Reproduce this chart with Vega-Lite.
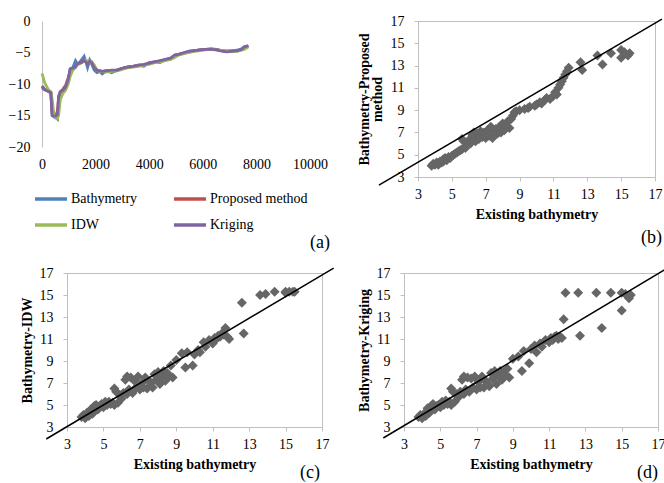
{
  "$schema": "https://vega.github.io/schema/vega-lite/v6.json",
  "background": "white",
  "padding": {"left": 8, "top": 13, "right": 0, "bottom": 0},
  "config": {
    "font": "Liberation Serif",
    "view": {"stroke": "#bfbfbf", "strokeWidth": 1},
    "axis": {"labelFont": "Liberation Serif", "labelFontSize": 14, "labelColor": "#000000", "titleFont": "Liberation Serif", "titleFontSize": 14, "titleFontWeight": "bold", "titleColor": "#000000", "domainColor": "#bfbfbf", "tickColor": "#bfbfbf", "grid": false, "tickSize": 4, "labelOverlap": false, "labelFlush": false},
    "title": {"font": "Liberation Serif", "fontSize": 18, "fontWeight": "normal", "color": "#000000", "frame": "group"}
  },
  "datasets": {
    "profile": [
      {"d":0,"Bathymetry":-10.3,"Proposed method":-10.4,"IDW":-8.3,"Kriging":-10.6},
      {"d":100,"Bathymetry":-10.8,"Proposed method":-10.9,"IDW":-9.8,"Kriging":-10.9},
      {"d":250,"Bathymetry":-11.1,"Proposed method":-11.2,"IDW":-11.0,"Kriging":-11.2},
      {"d":330,"Bathymetry":-11.3,"Proposed method":-11.5,"IDW":-11.2,"Kriging":-11.4},
      {"d":380,"Bathymetry":-15.0,"Proposed method":-14.6,"IDW":-12.5,"Kriging":-15.0},
      {"d":450,"Bathymetry":-15.2,"Proposed method":-14.8,"IDW":-15.0,"Kriging":-15.1},
      {"d":520,"Bathymetry":-15.4,"Proposed method":-15.0,"IDW":-15.3,"Kriging":-15.1},
      {"d":580,"Bathymetry":-15.6,"Proposed method":-14.2,"IDW":-15.5,"Kriging":-14.8},
      {"d":620,"Bathymetry":-13.0,"Proposed method":-12.0,"IDW":-15.0,"Kriging":-12.0},
      {"d":680,"Bathymetry":-11.4,"Proposed method":-11.3,"IDW":-12.5,"Kriging":-11.2},
      {"d":780,"Bathymetry":-11.2,"Proposed method":-10.8,"IDW":-11.5,"Kriging":-11.0},
      {"d":880,"Bathymetry":-10.8,"Proposed method":-10.2,"IDW":-11.0,"Kriging":-10.5},
      {"d":980,"Bathymetry":-9.5,"Proposed method":-9.0,"IDW":-10.0,"Kriging":-9.2},
      {"d":1050,"Bathymetry":-7.6,"Proposed method":-8.0,"IDW":-8.8,"Kriging":-7.6},
      {"d":1150,"Bathymetry":-7.4,"Proposed method":-7.6,"IDW":-7.8,"Kriging":-7.5},
      {"d":1250,"Bathymetry":-6.3,"Proposed method":-7.2,"IDW":-7.4,"Kriging":-7.3},
      {"d":1320,"Bathymetry":-6.8,"Proposed method":-6.9,"IDW":-6.9,"Kriging":-6.8},
      {"d":1400,"Bathymetry":-6.6,"Proposed method":-6.6,"IDW":-6.8,"Kriging":-6.7},
      {"d":1500,"Bathymetry":-6.0,"Proposed method":-6.4,"IDW":-6.6,"Kriging":-6.5},
      {"d":1570,"Bathymetry":-5.6,"Proposed method":-6.2,"IDW":-6.4,"Kriging":-6.3},
      {"d":1640,"Bathymetry":-6.5,"Proposed method":-6.4,"IDW":-6.2,"Kriging":-6.5},
      {"d":1700,"Bathymetry":-7.4,"Proposed method":-6.8,"IDW":-6.4,"Kriging":-6.9},
      {"d":1780,"Bathymetry":-6.2,"Proposed method":-6.5,"IDW":-6.6,"Kriging":-6.4},
      {"d":1850,"Bathymetry":-6.8,"Proposed method":-6.6,"IDW":-6.4,"Kriging":-6.6},
      {"d":1950,"Bathymetry":-7.8,"Proposed method":-7.4,"IDW":-7.0,"Kriging":-7.4},
      {"d":2050,"Bathymetry":-8.2,"Proposed method":-7.9,"IDW":-7.8,"Kriging":-7.8},
      {"d":2150,"Bathymetry":-8.0,"Proposed method":-7.9,"IDW":-8.0,"Kriging":-7.9},
      {"d":2250,"Bathymetry":-8.4,"Proposed method":-8.0,"IDW":-8.0,"Kriging":-8.0},
      {"d":2400,"Bathymetry":-7.9,"Proposed method":-7.9,"IDW":-8.1,"Kriging":-7.9},
      {"d":2600,"Bathymetry":-8.2,"Proposed method":-7.9,"IDW":-8.0,"Kriging":-7.8},
      {"d":2800,"Bathymetry":-7.8,"Proposed method":-7.8,"IDW":-7.9,"Kriging":-7.8},
      {"d":3000,"Bathymetry":-7.5,"Proposed method":-7.5,"IDW":-7.7,"Kriging":-7.5},
      {"d":3200,"Bathymetry":-7.4,"Proposed method":-7.3,"IDW":-7.4,"Kriging":-7.3},
      {"d":3400,"Bathymetry":-7.2,"Proposed method":-7.2,"IDW":-7.3,"Kriging":-7.2},
      {"d":3600,"Bathymetry":-7.0,"Proposed method":-7.0,"IDW":-7.2,"Kriging":-7.0},
      {"d":3800,"Bathymetry":-7.2,"Proposed method":-7.0,"IDW":-7.0,"Kriging":-6.9},
      {"d":4000,"Bathymetry":-6.6,"Proposed method":-6.7,"IDW":-6.9,"Kriging":-6.7},
      {"d":4200,"Bathymetry":-6.5,"Proposed method":-6.5,"IDW":-6.6,"Kriging":-6.5},
      {"d":4400,"Bathymetry":-6.6,"Proposed method":-6.4,"IDW":-6.5,"Kriging":-6.3},
      {"d":4600,"Bathymetry":-6.1,"Proposed method":-6.2,"IDW":-6.3,"Kriging":-6.1},
      {"d":4800,"Bathymetry":-6.0,"Proposed method":-5.9,"IDW":-6.1,"Kriging":-5.9},
      {"d":4950,"Bathymetry":-5.4,"Proposed method":-5.5,"IDW":-5.8,"Kriging":-5.4},
      {"d":5100,"Bathymetry":-5.3,"Proposed method":-5.3,"IDW":-5.4,"Kriging":-5.3},
      {"d":5300,"Bathymetry":-5.1,"Proposed method":-5.1,"IDW":-5.2,"Kriging":-5.0},
      {"d":5500,"Bathymetry":-4.8,"Proposed method":-4.9,"IDW":-5.0,"Kriging":-4.8},
      {"d":5700,"Bathymetry":-4.7,"Proposed method":-4.7,"IDW":-4.8,"Kriging":-4.7},
      {"d":5900,"Bathymetry":-4.6,"Proposed method":-4.6,"IDW":-4.7,"Kriging":-4.6},
      {"d":6100,"Bathymetry":-4.5,"Proposed method":-4.5,"IDW":-4.6,"Kriging":-4.5},
      {"d":6300,"Bathymetry":-4.4,"Proposed method":-4.5,"IDW":-4.5,"Kriging":-4.5},
      {"d":6500,"Bathymetry":-4.5,"Proposed method":-4.5,"IDW":-4.6,"Kriging":-4.6},
      {"d":6700,"Bathymetry":-4.7,"Proposed method":-4.7,"IDW":-4.7,"Kriging":-4.8},
      {"d":6900,"Bathymetry":-4.8,"Proposed method":-4.8,"IDW":-4.8,"Kriging":-4.9},
      {"d":7100,"Bathymetry":-4.8,"Proposed method":-4.7,"IDW":-4.8,"Kriging":-4.8},
      {"d":7300,"Bathymetry":-4.6,"Proposed method":-4.7,"IDW":-4.8,"Kriging":-4.7},
      {"d":7450,"Bathymetry":-4.4,"Proposed method":-4.6,"IDW":-4.6,"Kriging":-4.5},
      {"d":7550,"Bathymetry":-4.1,"Proposed method":-4.2,"IDW":-4.5,"Kriging":-4.1},
      {"d":7700,"Bathymetry":-4.0,"Proposed method":-4.0,"IDW":-4.1,"Kriging":-3.9}
    ],
    "scatter": [
      {"e":3.8,"p":4.0,"i":3.9,"k":3.9},{"e":3.9,"p":4.2,"i":4.1,"k":4.1},{"e":4.0,"p":4.1,"i":3.8,"k":3.8},
      {"e":4.1,"p":4.3,"i":4.3,"k":4.2},{"e":4.2,"p":4.1,"i":4.0,"k":4.0},{"e":4.3,"p":4.4,"i":4.6,"k":4.7},
      {"e":4.4,"p":4.3,"i":4.2,"k":4.3},{"e":4.5,"p":4.6,"i":4.9,"k":4.9},{"e":4.5,"p":4.4,"i":4.5,"k":4.5},
      {"e":4.6,"p":4.7,"i":5.0,"k":5.1},{"e":4.7,"p":4.5,"i":4.6,"k":4.6},{"e":4.8,"p":4.8,"i":4.9,"k":4.9},
      {"e":4.9,"p":4.7,"i":5.1,"k":5.0},{"e":5.0,"p":4.9,"i":4.8,"k":4.8},{"e":5.1,"p":5.0,"i":5.3,"k":5.3},
      {"e":5.2,"p":5.1,"i":5.0,"k":5.0},{"e":5.3,"p":5.2,"i":5.3,"k":5.4},{"e":5.4,"p":5.3,"i":5.1,"k":5.1},
      {"e":5.5,"p":5.4,"i":5.2,"k":5.3},{"e":5.6,"p":6.4,"i":6.5,"k":6.5},{"e":5.6,"p":5.5,"i":5.0,"k":5.0},
      {"e":5.7,"p":6.2,"i":6.2,"k":6.2},{"e":5.8,"p":5.6,"i":5.2,"k":5.3},{"e":5.9,"p":6.1,"i":5.9,"k":6.0},
      {"e":6.0,"p":6.3,"i":5.6,"k":5.7},{"e":6.1,"p":6.0,"i":6.1,"k":6.2},{"e":6.2,"p":6.8,"i":7.3,"k":7.3},
      {"e":6.3,"p":6.5,"i":6.0,"k":6.0},{"e":6.3,"p":7.0,"i":7.6,"k":7.6},{"e":6.4,"p":6.2,"i":6.4,"k":6.4},
      {"e":6.5,"p":6.9,"i":7.5,"k":7.5},{"e":6.6,"p":6.4,"i":6.1,"k":6.2},{"e":6.7,"p":7.1,"i":7.2,"k":7.4},
      {"e":6.8,"p":6.6,"i":6.6,"k":6.6},{"e":6.9,"p":7.0,"i":7.6,"k":7.6},{"e":7.0,"p":6.5,"i":6.4,"k":6.4},
      {"e":7.1,"p":7.2,"i":7.0,"k":7.1},{"e":7.2,"p":6.7,"i":6.6,"k":6.6},{"e":7.3,"p":7.5,"i":7.5,"k":7.6},
      {"e":7.4,"p":6.5,"i":6.5,"k":6.6},{"e":7.5,"p":7.1,"i":7.2,"k":7.2},{"e":7.6,"p":7.3,"i":7.0,"k":7.0},
      {"e":7.7,"p":6.9,"i":6.6,"k":6.7},{"e":7.8,"p":7.5,"i":7.8,"k":7.9},{"e":7.9,"p":7.0,"i":7.3,"k":7.4},
      {"e":8.0,"p":7.8,"i":8.0,"k":8.1},{"e":8.1,"p":7.2,"i":6.9,"k":6.9},{"e":8.2,"p":7.6,"i":7.6,"k":7.7},
      {"e":8.3,"p":8.0,"i":8.1,"k":8.1},{"e":8.4,"p":7.4,"i":7.2,"k":7.3},{"e":8.5,"p":8.2,"i":7.9,"k":8.0},
      {"e":8.6,"p":8.5,"i":7.6,"k":7.7},{"e":8.7,"p":8.8,"i":8.6,"k":8.3},{"e":8.8,"p":8.9,"i":7.5,"k":7.5},
      {"e":9.0,"p":9.0,"i":9.1,"k":9.2},{"e":9.3,"p":9.1,"i":9.7,"k":9.4},{"e":9.5,"p":9.2,"i":8.4,"k":8.1},
      {"e":9.6,"p":9.3,"i":9.8,"k":9.9},{"e":9.9,"p":9.4,"i":8.6,"k":8.8},{"e":10.0,"p":9.5,"i":9.6,"k":10.1},
      {"e":10.2,"p":9.7,"i":10.0,"k":10.4},{"e":10.3,"p":9.6,"i":9.8,"k":9.8},{"e":10.5,"p":9.9,"i":10.7,"k":10.6},
      {"e":10.6,"p":10.1,"i":10.3,"k":10.3},{"e":10.8,"p":10.0,"i":10.9,"k":10.9},{"e":11.0,"p":10.3,"i":10.6,"k":10.7},
      {"e":11.1,"p":10.6,"i":11.1,"k":11.1},{"e":11.2,"p":10.4,"i":11.0,"k":10.9},{"e":11.3,"p":11.0,"i":11.3,"k":11.2},
      {"e":11.4,"p":11.3,"i":11.2,"k":11.3},{"e":11.5,"p":11.6,"i":11.5,"k":11.0},{"e":11.6,"p":11.9,"i":11.4,"k":11.2},
      {"e":11.7,"p":12.2,"i":12.0,"k":11.1},{"e":11.8,"p":12.5,"i":11.2,"k":12.8},{"e":11.9,"p":12.8,"i":11.0,"k":15.2},
      {"e":12.6,"p":13.3,"i":14.3,"k":15.2},{"e":12.7,"p":12.6,"i":11.5,"k":11.3},{"e":13.6,"p":13.9,"i":15.0,"k":15.2},
      {"e":13.9,"p":13.1,"i":15.1,"k":12.0},{"e":14.4,"p":14.1,"i":15.3,"k":15.2},{"e":15.0,"p":14.4,"i":15.3,"k":15.2},
      {"e":15.0,"p":13.7,"i":15.2,"k":13.6},{"e":15.2,"p":14.2,"i":15.3,"k":15.1},{"e":15.4,"p":13.9,"i":15.3,"k":14.7},
      {"e":15.5,"p":14.1,"i":15.3,"k":15.0}
    ],
    "fit": [
      {"panel":"b","x":0.69,"y":2.27,"x2":17.41,"y2":17.16},
      {"panel":"c","x":1.86,"y":1.91,"x2":17.64,"y2":17.45},
      {"panel":"d","x":1.86,"y":2.0,"x2":17.44,"y2":17.36}
    ]
  },
  "spacing": 13,
  "vconcat": [
    {
      "spacing": 21,
      "hconcat": [
        {
          "width": 243,
          "height": 126,
          "view": {"stroke": null},
          "title": {"text": "(a)", "orient": "bottom", "anchor": "end", "offset": 63, "dx": 20},
          "layer": [
            {
              "mark": {"type": "rule", "color": "#bfbfbf", "strokeWidth": 1},
              "encoding": {
                "x": {"datum": 0, "type": "quantitative"},
                "x2": {"datum": 10000},
                "y": {"datum": -20, "type": "quantitative"}
              }
            },
            {
              "data": {"name": "profile"},
              "transform": [{"fold": ["Bathymetry", "Proposed method", "IDW", "Kriging"], "as": ["series", "depth"]}],
              "mark": {"type": "line", "strokeWidth": 2.8},
              "encoding": {
                "x": {"field": "d", "type": "quantitative", "scale": {"domain": [0, 10000], "nice": false, "range": [-25, 243]}, "axis": {"title": null, "values": [0, 2000, 4000, 6000, 8000, 10000], "tickCount": 20, "format": "d", "ticks": false, "domain": false, "labelPadding": 10, "labelOverlap": false}},
                "y": {"field": "depth", "type": "quantitative", "scale": {"domain": [-20, 0], "nice": false}, "axis": {"title": null, "values": [-20, -15, -10, -5, 0], "tickCount": 20, "format": "d", "ticks": false, "labelPadding": 12, "offset": 25, "labelOverlap": false}},
                "color": {
                  "field": "series", "type": "nominal",
                  "scale": {"domain": ["Bathymetry", "Proposed method", "IDW", "Kriging"], "range": ["#4F81BD", "#C0504D", "#9BBB59", "#8064A2"]},
                  "legend": {"title": null, "orient": "none", "direction": "horizontal", "legendX": -34, "legendY": 160, "columns": 2, "symbolType": "stroke", "symbolSize": 1024, "symbolStrokeWidth": 3.5, "labelFont": "Liberation Serif", "labelFontSize": 14, "labelColor": "#000000", "columnPadding": 29, "rowPadding": 1, "labelOffset": 2}
                }
              }
            }
          ]
        },
        {
          "width": 237,
          "height": 156,
          "title": {"text": "(b)", "orient": "bottom", "anchor": "end", "offset": 8, "dx": 7},
          "layer": [
            {
              "data": {"name": "scatter"},
              "mark": {"type": "point", "shape": "diamond", "filled": true, "size": 100, "color": "#666666", "opacity": 1},
              "encoding": {
                "x": {"field": "e", "type": "quantitative", "scale": {"domain": [3, 17], "nice": false, "zero": false}, "axis": {"title": "Existing bathymetry", "values": [3, 5, 7, 9, 11, 13, 15, 17], "tickCount": 20, "format": "d", "labelPadding": 6, "titlePadding": 6, "labelOverlap": false}},
                "y": {"field": "p", "type": "quantitative", "scale": {"domain": [3, 17], "nice": false, "zero": false}, "axis": {"title": ["Bathymetry-Proposed", "method"], "titleLineHeight": 13, "values": [3, 5, 7, 9, 11, 13, 15, 17], "tickCount": 20, "format": "d", "labelPadding": 10, "titlePadding": 6, "labelOverlap": false}}
              }
            },
            {
              "data": {"name": "fit"},
              "transform": [{"filter": "datum.panel === 'b'"}],
              "mark": {"type": "rule", "color": "#000000", "strokeWidth": 1.5},
              "encoding": {
                "x": {"field": "x", "type": "quantitative"},
                "y": {"field": "y", "type": "quantitative"},
                "x2": {"field": "x2"},
                "y2": {"field": "y2"}
              }
            }
          ]
        }
      ]
    },
    {
      "spacing": 21,
      "hconcat": [
        {
          "width": 255,
          "height": 154,
          "title": {"text": "(c)", "orient": "bottom", "anchor": "end", "offset": -7, "dx": -2},
          "layer": [
            {
              "data": {"name": "scatter"},
              "mark": {"type": "point", "shape": "diamond", "filled": true, "size": 100, "color": "#666666", "opacity": 1},
              "encoding": {
                "x": {"field": "e", "type": "quantitative", "scale": {"domain": [3, 17], "nice": false, "zero": false}, "axis": {"title": "Existing bathymetry", "values": [3, 5, 7, 9, 11, 13, 15, 17], "tickCount": 20, "format": "d", "labelPadding": 6, "titlePadding": 6, "labelOverlap": false}},
                "y": {"field": "i", "type": "quantitative", "scale": {"domain": [3, 17], "nice": false, "zero": false}, "axis": {"title": "Bathymetry-IDW", "values": [3, 5, 7, 9, 11, 13, 15, 17], "tickCount": 20, "format": "d", "labelPadding": 10, "titlePadding": 5, "labelOverlap": false}}
              }
            },
            {
              "data": {"name": "fit"},
              "transform": [{"filter": "datum.panel === 'c'"}],
              "mark": {"type": "rule", "color": "#000000", "strokeWidth": 1.5},
              "encoding": {
                "x": {"field": "x", "type": "quantitative"},
                "y": {"field": "y", "type": "quantitative"},
                "x2": {"field": "x2"},
                "y2": {"field": "y2"}
              }
            }
          ]
        },
        {
          "width": 254,
          "height": 154,
          "title": {"text": "(d)", "orient": "bottom", "anchor": "end", "offset": -7, "dx": 0},
          "layer": [
            {
              "data": {"name": "scatter"},
              "mark": {"type": "point", "shape": "diamond", "filled": true, "size": 100, "color": "#666666", "opacity": 1},
              "encoding": {
                "x": {"field": "e", "type": "quantitative", "scale": {"domain": [3, 17], "nice": false, "zero": false}, "axis": {"title": "Existing bathymetry", "values": [3, 5, 7, 9, 11, 13, 15, 17], "tickCount": 20, "format": "d", "labelPadding": 6, "titlePadding": 6, "labelOverlap": false}},
                "y": {"field": "k", "type": "quantitative", "scale": {"domain": [3, 17], "nice": false, "zero": false}, "axis": {"title": "Bathymetry-Kriging", "values": [3, 5, 7, 9, 11, 13, 15, 17], "tickCount": 20, "format": "d", "labelPadding": 10, "titlePadding": 5, "labelOverlap": false}}
              }
            },
            {
              "data": {"name": "fit"},
              "transform": [{"filter": "datum.panel === 'd'"}],
              "mark": {"type": "rule", "color": "#000000", "strokeWidth": 1.5},
              "encoding": {
                "x": {"field": "x", "type": "quantitative"},
                "y": {"field": "y", "type": "quantitative"},
                "x2": {"field": "x2"},
                "y2": {"field": "y2"}
              }
            }
          ]
        }
      ]
    }
  ]
}
